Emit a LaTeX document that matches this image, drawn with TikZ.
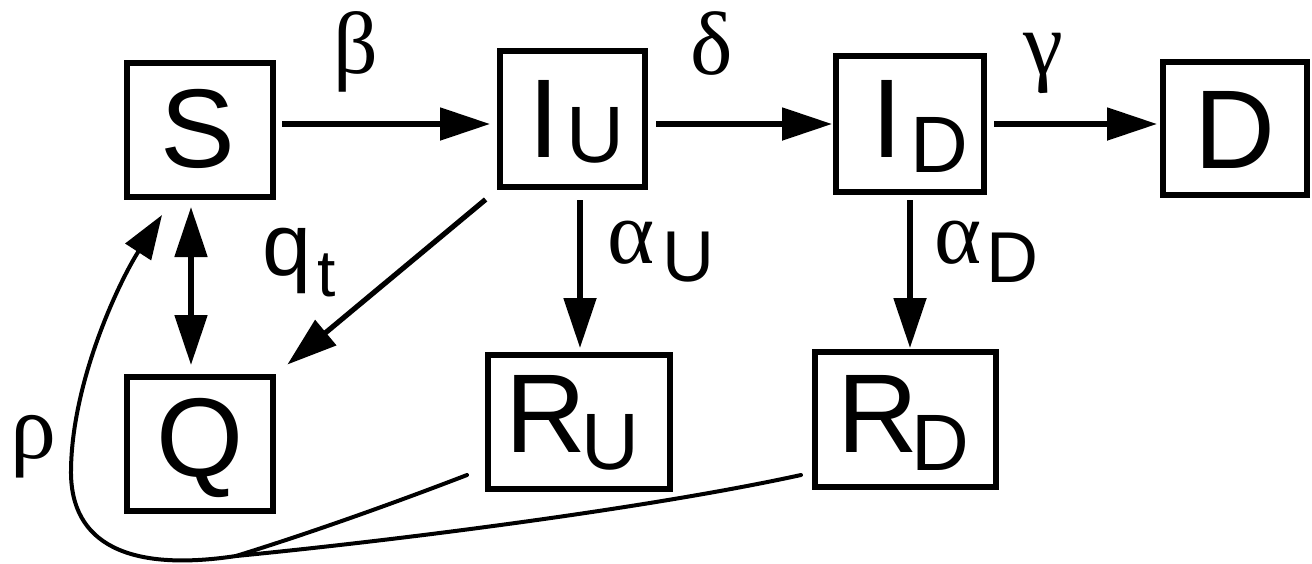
\documentclass[tikz,border=0pt]{standalone}
\usepackage{fontspec}
\setmainfont{Liberation Serif}
\newfontfamily\sansf{Liberation Sans}
\usetikzlibrary{arrows.meta,calc}
\newcommand\subsz{\fontsize{40}{44}\selectfont}
\begin{document}
\begin{tikzpicture}[x=0.5pt,y=-0.5pt,
  box/.style={draw, line width=2.8pt, inner sep=0pt, text depth=0pt, font=\sansf\fontsize{56}{60}\selectfont},
  arr/.style={line width=2.6pt, -{Triangle[length=25pt,width=16pt]}},
  dblarr/.style={line width=2.6pt, {Triangle[length=25pt,width=16pt]}-{Triangle[length=25pt,width=16pt]}},
  rholine/.style={line width=2pt, line cap=round},
  greek/.style={inner sep=0pt, font=\fontsize{45}{50}\selectfont},
  sublabel/.style={inner sep=0pt, anchor=base west},
]
\useasboundingbox (0,0) rectangle (1312,563);

% boxes
\node[box, minimum width=73.2pt, minimum height=67.2pt, text height=37pt] (S) at (200,130) {S\kern2.5pt};
\node[box, minimum width=72.7pt, minimum height=68.2pt, text height=38pt] (IU) at (572.5,119) {\kern3.9pt I\kern3.5pt\lower2.5pt\hbox{\subsz U}};
\node[box, minimum width=74.2pt, minimum height=68.2pt, text height=33pt] (ID) at (910,124) {\kern9.9pt I\kern4pt\lower7.5pt\hbox{\subsz D}};
\node[box, minimum width=72.2pt, minimum height=66.7pt, text height=39.5pt] (D) at (1235,128.5) {D};
\node[box, minimum width=73.2pt, minimum height=67.2pt, text height=32pt] (Q) at (200,444) {Q};
\node[box, minimum width=91.2pt, minimum height=67.2pt, text height=30pt] (RU) at (579,422) {R\kern-2.6pt\lower8.5pt\hbox{\subsz U}\kern6.3pt};
\node[box, minimum width=90.7pt, minimum height=67.7pt, text height=32.5pt] (RD) at (905.5,419.5) {R\kern-3.6pt\lower9pt\hbox{\subsz D}\kern1.8pt};

% helper coordinates
\coordinate (hy) at (0,124);
\coordinate (vu) at (580,0);
\coordinate (vd) at (910,0);
\coordinate (vs) at (191,0);

% straight arrows
\draw[arr, shorten <=3pt, shorten >=3.5pt] (S.east |- hy) -- (IU.west |- hy);
\draw[arr, shorten <=4pt, shorten >=0.5pt] (IU.east |- hy) -- (ID.west |- hy);
\draw[arr, shorten <=3.5pt, shorten >=1.5pt] (ID.east |- hy) -- (D.west |- hy);
\draw[arr, shorten <=5pt, shorten >=2pt] (vu |- IU.south) -- (vu |- RU.north);
\draw[arr, shorten <=2.5pt, shorten >=0.5pt] (vd |- ID.south) -- (vd |- RD.north);
\draw[dblarr, shorten <=3.5pt, shorten >=4.5pt] (vs |- S.south) -- (vs |- Q.north);
\draw[arr, shorten <=7.4pt, shorten >=7.4pt] (IU.south west) -- (Q.north east);

% rho return curve
\coordinate (ru0) at ([shift={(-18,-17)}]RU.south west);
\coordinate (rd0) at ([shift={(-11,-15)}]RD.south west);
\coordinate (J) at (236,556);
\coordinate (rtip) at ([shift={(38,15)}]S.south west);
\draw[rholine] (rd0) .. controls (650,508) and (400,540) .. (J);
\draw[rholine] (ru0) .. controls (410,497) and (320,530) .. (J);
\draw[rholine, -{Triangle[length=22pt,width=15pt]}] (J) .. controls (130,572) and (70,545) .. (71,470) .. controls (72,380) and (120,280) .. (rtip);

% labels
\node[greek, font=\fontsize{44}{50}\selectfont] (beta) at (356,52) {β};
\node[greek] (delta) at (711.5,43.5) {δ};
\node[greek] (gamma) at (1043.5,63) {γ};
\node[greek, font=\fontsize{46}{50}\selectfont] (rho) at (33,447) {ρ};
\node[sublabel, font=\fontsize{45}{50}\selectfont] (aU) at (607,263) {α\kern4pt\lower9pt\hbox{\sansf\fontsize{36}{40}\selectfont U}};
\node[sublabel, font=\fontsize{45}{50}\selectfont] (aD) at (934,263) {α\kern2.7pt\lower9.5pt\hbox{\sansf\fontsize{36}{40}\selectfont D}};
\node[sublabel, font=\sansf\fontsize{44}{48}\selectfont] (qt) at (262,275) {q\kern3pt\lower10.5pt\hbox{\fontsize{33}{36}\selectfont t}};
\end{tikzpicture}
\end{document}
